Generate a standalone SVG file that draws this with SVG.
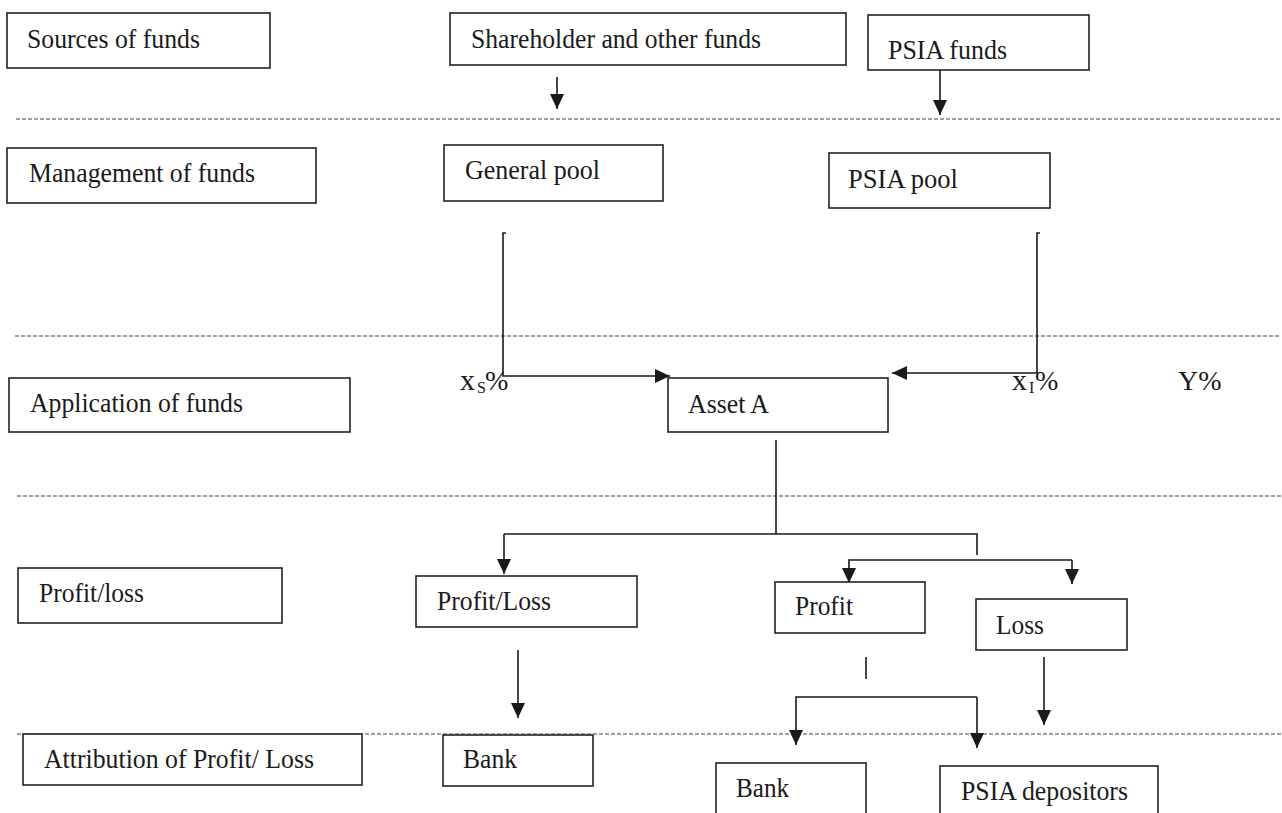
<svg xmlns="http://www.w3.org/2000/svg" width="1282" height="813" viewBox="0 0 1282 813">
<style>
.box{fill:#fff;stroke:#222;stroke-width:1.6}
.t{font-family:"Liberation Serif","Times New Roman","DejaVu Serif",serif;font-size:28px;fill:#1a1a1a}
.s{font-size:16px}
.dash{stroke:#444;stroke-width:1.1;stroke-dasharray:4 2;fill:none}
.c{stroke:#1a1a1a;stroke-width:1.6;fill:none}
.ca{stroke:#1a1a1a;stroke-width:1.6;fill:none;marker-end:url(#ah)}
</style>
<defs>
<marker id="ah" viewBox="0 0 15 14" refX="15" refY="7" markerWidth="15" markerHeight="14" markerUnits="userSpaceOnUse" orient="auto">
<path d="M0,0 L15,7 L0,14 z" fill="#1a1a1a"/>
</marker>
</defs>
<rect width="1282" height="813" fill="#fff"/>
<g id="separators">
<line class="dash" x1="16" y1="119" x2="1281" y2="119"/>
<line class="dash" x1="15" y1="336" x2="1281" y2="336"/>
<line class="dash" x1="17" y1="496" x2="1281" y2="496"/>
<line class="dash" x1="17" y1="734" x2="1281" y2="734"/>
</g>
<g id="connectors">
<line class="ca" x1="557" y1="77" x2="557" y2="109"/>
<line class="ca" x1="940" y1="70" x2="940" y2="115"/>
<path class="ca" d="M506,233 H503 V376 H670"/>
<path class="ca" d="M1040,233 H1037 V373 H892"/>
<line class="c" x1="776" y1="440" x2="776" y2="534"/>
<path class="c" d="M504,534 H977 V555"/>
<line class="ca" x1="504" y1="534" x2="504" y2="574"/>
<path class="ca" d="M1072,560 H849 V583"/>
<line class="ca" x1="1072" y1="560" x2="1072" y2="584"/>
<line class="ca" x1="518" y1="650" x2="518" y2="718"/>
<line class="c" x1="866" y1="657" x2="866" y2="679"/>
<path class="ca" d="M977,697 H796 V745"/>
<line class="ca" x1="977" y1="697" x2="977" y2="748"/>
<line class="ca" x1="1044" y1="657" x2="1044" y2="725"/>
</g>
<g id="sources-label"><rect class="box" x="7" y="13" width="263" height="55"/><text class="t" x="27" y="48" textLength="173" lengthAdjust="spacingAndGlyphs">Sources of funds</text></g>
<g id="shareholder-funds"><rect class="box" x="450" y="13" width="396" height="52"/><text class="t" x="471" y="48" textLength="290" lengthAdjust="spacingAndGlyphs">Shareholder and other funds</text></g>
<g id="psia-funds"><rect class="box" x="868" y="15" width="221" height="55"/><text class="t" x="888" y="59" textLength="119" lengthAdjust="spacingAndGlyphs">PSIA funds</text></g>
<g id="management-label"><rect class="box" x="7" y="148" width="309" height="55"/><text class="t" x="29" y="182" textLength="226" lengthAdjust="spacingAndGlyphs">Management of funds</text></g>
<g id="general-pool"><rect class="box" x="444" y="145" width="219" height="56"/><text class="t" x="465" y="179" textLength="135" lengthAdjust="spacingAndGlyphs">General pool</text></g>
<g id="psia-pool"><rect class="box" x="829" y="153" width="221" height="55"/><text class="t" x="848" y="188" textLength="110" lengthAdjust="spacingAndGlyphs">PSIA pool</text></g>
<g id="application-label"><rect class="box" x="9" y="378" width="341" height="54"/><text class="t" x="30" y="412" textLength="213" lengthAdjust="spacingAndGlyphs">Application of funds</text></g>
<g id="asset-a"><rect class="box" x="668" y="378" width="220" height="54"/><text class="t" x="688" y="413" textLength="81" lengthAdjust="spacingAndGlyphs">Asset A</text></g>
<g id="label-xs"><text class="t" x="460" y="390"><tspan font-size="30">x</tspan><tspan class="s" x="477" dy="3">S</tspan><tspan x="485" dy="-3">%</tspan></text></g>
<g id="label-xi"><text class="t" x="1012" y="390"><tspan font-size="30">x</tspan><tspan class="s" x="1029" dy="3">I</tspan><tspan x="1035" dy="-3">%</tspan></text></g>
<g id="label-y"><text class="t" x="1178" y="390">Y%</text></g>
<g id="profitloss-label"><rect class="box" x="18" y="568" width="264" height="55"/><text class="t" x="39" y="602" textLength="105" lengthAdjust="spacingAndGlyphs">Profit/loss</text></g>
<g id="profit-loss"><rect class="box" x="416" y="576" width="221" height="51"/><text class="t" x="437" y="610" textLength="114" lengthAdjust="spacingAndGlyphs">Profit/Loss</text></g>
<g id="profit"><rect class="box" x="775" y="582" width="150" height="51"/><text class="t" x="795" y="615" textLength="58" lengthAdjust="spacingAndGlyphs">Profit</text></g>
<g id="loss"><rect class="box" x="976" y="599" width="151" height="51"/><text class="t" x="996" y="634" textLength="48" lengthAdjust="spacingAndGlyphs">Loss</text></g>
<g id="attribution-label"><rect class="box" x="23" y="734" width="339" height="51"/><text class="t" x="44" y="768" textLength="270" lengthAdjust="spacingAndGlyphs">Attribution of Profit/ Loss</text></g>
<g id="bank-1"><rect class="box" x="443" y="735" width="150" height="51"/><text class="t" x="463" y="768" textLength="54" lengthAdjust="spacingAndGlyphs">Bank</text></g>
<g id="bank-2"><rect class="box" x="716" y="763" width="150" height="60"/><text class="t" x="736" y="797" textLength="53" lengthAdjust="spacingAndGlyphs">Bank</text></g>
<g id="psia-depositors"><rect class="box" x="940" y="766" width="218" height="60"/><text class="t" x="961" y="800" textLength="167" lengthAdjust="spacingAndGlyphs">PSIA depositors</text></g>
</svg>
